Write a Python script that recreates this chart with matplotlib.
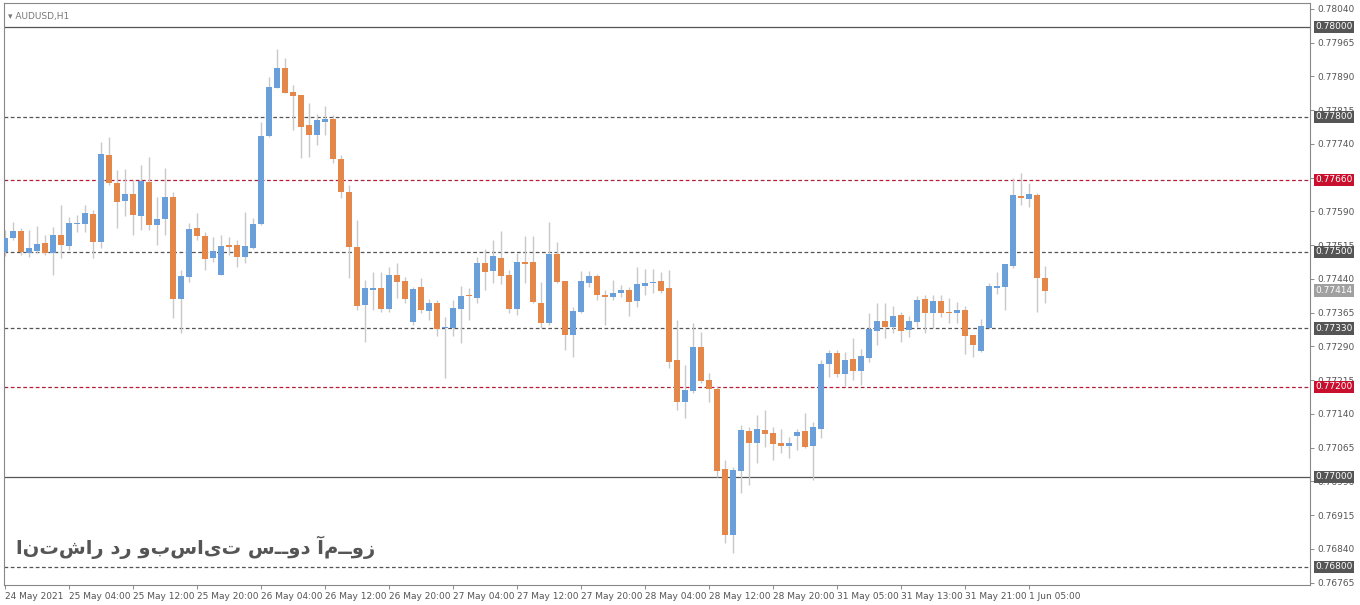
import matplotlib
matplotlib.use("Agg")
import matplotlib.pyplot as plt
import matplotlib.transforms as mtrans

opens = [0.77500,0.77531,0.77547,0.77498,0.77502,0.77520,0.77498,0.77538,0.77513,0.77562,
0.77562,0.77585,0.77522,0.77716,0.77653,0.77613,0.77629,0.77580,0.77656,0.77560,
0.77573,0.77622,0.77396,0.77444,0.77553,0.77536,0.77487,0.77449,0.77516,0.77516,
0.77489,0.77509,0.77562,0.77758,0.77864,0.77909,0.77856,0.77849,0.77782,0.77760,
0.77789,0.77796,0.77707,0.77633,0.77511,0.77382,0.77416,0.77420,0.77373,0.77449,
0.77436,0.77345,0.77422,0.77369,0.77387,0.77331,0.77331,0.77373,0.77404,0.77398,
0.77476,0.77458,0.77487,0.77449,0.77373,0.77478,0.77478,0.77387,0.77342,0.77496,
0.77436,0.77316,0.77367,0.77431,0.77447,0.77404,0.77400,0.77409,0.77416,0.77391,
0.77424,0.77431,0.77436,0.77420,0.77260,0.77167,0.77191,0.77289,0.77216,0.77196,
0.77018,0.76871,0.77013,0.77102,0.77076,0.77105,0.77098,0.77076,0.77069,0.77091,
0.77102,0.77069,0.77107,0.77251,0.77276,0.77229,0.77262,0.77236,0.77265,0.77325,
0.77347,0.77333,0.77360,0.77327,0.77345,0.77396,0.77365,0.77391,0.77367,0.77365,
0.77371,0.77316,0.77280,0.77331,0.77420,0.77422,0.77469,0.77625,0.77618,0.77627,
0.77442]
highs = [0.77549,0.77567,0.77553,0.77549,0.77558,0.77538,0.77556,0.77605,0.77578,0.77582,
0.77605,0.77593,0.77745,0.77756,0.77682,0.77684,0.77660,0.77693,0.77711,0.77622,
0.77687,0.77633,0.77460,0.77565,0.77587,0.77545,0.77533,0.77538,0.77533,0.77527,
0.77589,0.77576,0.77789,0.77889,0.77951,0.77931,0.77871,0.77849,0.77831,0.77807,
0.77824,0.77804,0.77716,0.77649,0.77571,0.77438,0.77456,0.77456,0.77467,0.77476,
0.77444,0.77422,0.77442,0.77396,0.77393,0.77356,0.77393,0.77425,0.77420,0.77489,
0.77507,0.77527,0.77547,0.77460,0.77498,0.77536,0.77536,0.77433,0.77567,0.77522,
0.77436,0.77378,0.77458,0.77458,0.77451,0.77416,0.77438,0.77427,0.77422,0.77467,
0.77462,0.77462,0.77456,0.77460,0.77349,0.77249,0.77342,0.77322,0.77231,0.77202,
0.77038,0.77022,0.77116,0.77111,0.77138,0.77149,0.77111,0.77107,0.77089,0.77107,
0.77142,0.77122,0.77260,0.77282,0.77282,0.77278,0.77309,0.77285,0.77365,0.77387,
0.77387,0.77380,0.77367,0.77358,0.77402,0.77404,0.77404,0.77404,0.77398,0.77389,
0.77380,0.77316,0.77351,0.77431,0.77456,0.77473,0.77665,0.77676,0.77653,0.77631,
0.77469]
lows = [0.77491,0.77527,0.77493,0.77489,0.77498,0.77493,0.77449,0.77487,0.77505,0.77545,
0.77545,0.77487,0.77509,0.77649,0.77553,0.77580,0.77538,0.77549,0.77549,0.77516,
0.77538,0.77353,0.77320,0.77433,0.77527,0.77460,0.77478,0.77449,0.77493,0.77467,
0.77476,0.77507,0.77560,0.77756,0.77864,0.77853,0.77771,0.77709,0.77711,0.77738,
0.77760,0.77698,0.77620,0.77442,0.77371,0.77300,0.77371,0.77367,0.77367,0.77398,
0.77387,0.77338,0.77365,0.77349,0.77313,0.77220,0.77313,0.77298,0.77349,0.77387,
0.77416,0.77431,0.77429,0.77365,0.77360,0.77431,0.77387,0.77331,0.77338,0.77431,
0.77282,0.77267,0.77365,0.77422,0.77393,0.77338,0.77393,0.77400,0.77358,0.77378,
0.77404,0.77409,0.77409,0.77242,0.77149,0.77131,0.77187,0.77209,0.77167,0.77000,
0.76853,0.76831,0.76965,0.76982,0.77031,0.77067,0.77038,0.77053,0.77042,0.77060,
0.77065,0.76993,0.77087,0.77222,0.77222,0.77202,0.77216,0.77205,0.77256,0.77293,
0.77309,0.77320,0.77300,0.77311,0.77333,0.77320,0.77331,0.77356,0.77342,0.77342,
0.77273,0.77267,0.77278,0.77331,0.77407,0.77371,0.77465,0.77604,0.77600,0.77367,
0.77387]
closes = [0.77531,0.77547,0.77500,0.77509,0.77518,0.77498,0.77538,0.77516,0.77565,0.77565,
0.77587,0.77522,0.77718,0.77653,0.77611,0.77629,0.77582,0.77658,0.77560,0.77573,
0.77622,0.77396,0.77447,0.77551,0.77536,0.77484,0.77502,0.77513,0.77511,0.77489,
0.77513,0.77562,0.77758,0.77867,0.77909,0.77853,0.77847,0.77778,0.77760,0.77793,
0.77796,0.77707,0.77633,0.77511,0.77380,0.77420,0.77420,0.77373,0.77449,0.77433,
0.77396,0.77418,0.77371,0.77387,0.77329,0.77333,0.77376,0.77402,0.77402,0.77476,
0.77456,0.77491,0.77447,0.77373,0.77478,0.77473,0.77389,0.77342,0.77496,0.77433,
0.77316,0.77369,0.77436,0.77447,0.77404,0.77400,0.77409,0.77416,0.77389,0.77429,
0.77431,0.77433,0.77413,0.77256,0.77167,0.77193,0.77289,0.77213,0.77196,0.77013,
0.76871,0.77016,0.77105,0.77076,0.77107,0.77096,0.77073,0.77069,0.77076,0.77100,
0.77067,0.77111,0.77251,0.77276,0.77229,0.77260,0.77236,0.77269,0.77329,0.77347,
0.77333,0.77358,0.77325,0.77347,0.77393,0.77365,0.77391,0.77365,0.77365,0.77371,
0.77313,0.77293,0.77336,0.77425,0.77425,0.77473,0.77627,0.77620,0.77629,0.77442,
0.77414]

x_labels = ["24 May 2021","25 May 04:00","25 May 12:00","25 May 20:00","26 May 04:00",
"26 May 12:00","26 May 20:00","27 May 04:00","27 May 12:00","27 May 20:00",
"28 May 04:00","28 May 12:00","28 May 20:00","31 May 05:00","31 May 13:00",
"31 May 21:00","1 Jun 05:00"]
y_ticks = [0.78040,0.77965,0.77890,0.77815,0.77740,0.77665,0.77590,0.77515,0.77440,
0.77365,0.77290,0.77215,0.77140,0.77065,0.76990,0.76915,0.76840,0.76765]
solid_levels = [0.78000, 0.77000]
dotted_levels = [0.77800, 0.77500, 0.77330, 0.76800]
red_levels = [0.77660, 0.77200]
last_price = 0.77414

BLUE = "#6B9FDA"; ORANGE = "#E3884A"; WICK = "#C8C8C8"

fig = plt.figure(figsize=(13.6, 6.05), dpi=100)
ax = fig.add_axes([4/1360, 20/605, 1306/1360, 582/605])
n = len(opens)
xs = list(range(n))
ax.vlines(xs, lows, highs, color=WICK, lw=1, zorder=2)
for i in xs:
    o, c = opens[i], closes[i]
    lo, hi = min(o, c), max(o, c)
    h = max(hi - lo, 0.000018)
    ax.bar(i, h, bottom=lo, width=0.75, color=BLUE if c >= o else ORANGE, lw=0, zorder=3)

ax.set_xlim((4-5)/8, (1310-5)/8)
ax.set_ylim(0.76760, 0.78053)

for lv in solid_levels:
    ax.axhline(lv, color="#555555", lw=0.9, zorder=1)
for lv in dotted_levels:
    ax.axhline(lv, color="#555555", lw=0.9, ls=(0, (3, 2)), zorder=1)
for lv in red_levels:
    ax.axhline(lv, color="#B0203A", lw=0.9, ls=(0, (3, 2)), zorder=1)

ax.yaxis.tick_right()
ax.set_yticks(y_ticks)
ax.set_yticklabels([f"{v:.5f}" for v in y_ticks], fontsize=6.5, color="#555555")
ax.tick_params(axis="y", length=3, width=0.6, color="#777777", pad=2)
ax.set_xticks(list(range(0, n, 8)))
ax.set_xticklabels(x_labels, fontsize=6.5, color="#555555", ha="left")
ax.tick_params(axis="x", length=3, width=0.6, color="#777777", pad=2)
for s in ax.spines.values():
    s.set_color("#888888"); s.set_linewidth(0.8)

trans = mtrans.blended_transform_factory(ax.transAxes, ax.transData)
def box(v, fc):
    ax.text(1.004, v, f"{v:.5f}", transform=trans, fontsize=6.5, color="white",
            va="center", ha="left", zorder=10, clip_on=False,
            bbox=dict(boxstyle="square,pad=0.18", fc=fc, ec="none"))
for lv in solid_levels + dotted_levels:
    box(lv, "#555555")
for lv in red_levels:
    box(lv, "#C8102E")
box(last_price, "#A0A0A0")

ax.text(0.003, 0.985, "\u25BE AUDUSD,H1", transform=ax.transAxes, fontsize=6.5,
        color="#777777", va="top", ha="left")
ax.text(0.009, 0.065, "انتشار در وبسایت ســود آمــوز", transform=ax.transAxes,
        fontsize=14, color="#555555", fontweight="bold", va="center", ha="left",
        family=["DejaVu Sans"])

fig.savefig("out.png", dpi=100)
